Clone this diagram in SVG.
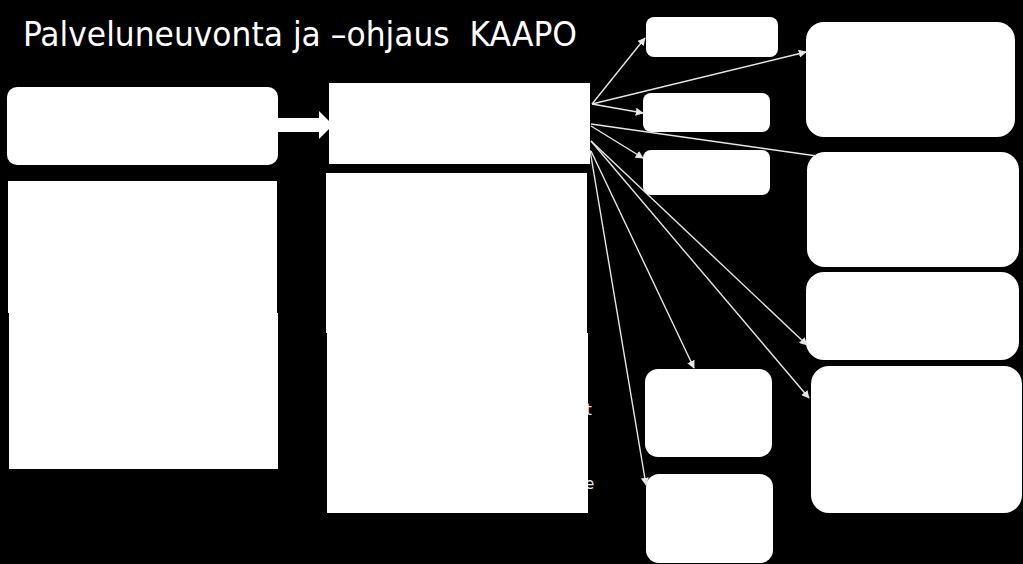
<svg xmlns="http://www.w3.org/2000/svg" width="1023" height="564" viewBox="0 0 1023 564">
<defs>
<style>
.box{fill:#ffffff;}
.con{stroke:#e6e6e6;stroke-width:1.4;fill:none;}
.title{font-family:"DejaVu Sans Condensed","DejaVu Sans",sans-serif;font-size:34px;fill:#ffffff;white-space:pre;}
.frag{font-family:"DejaVu Sans","Liberation Sans",sans-serif;font-size:15px;fill:#e8e8e8;}
</style>
<marker id="ah" viewBox="0 0 10 10" refX="9" refY="5" markerWidth="8" markerHeight="8" markerUnits="userSpaceOnUse" orient="auto">
<path d="M0,0 L10,5 L0,10 z" fill="#e6e6e6"/>
</marker>
</defs>
<rect x="0" y="0" width="1023" height="564" fill="#000000"/>
<text class="title" xml:space="preserve" x="23" y="46" textLength="554" lengthAdjust="spacingAndGlyphs">Palveluneuvonta ja –ohjaus  KAAPO</text>

<g id="left-top"><rect class="box" x="7" y="87" width="271" height="78" rx="10"/></g>
<g id="left-body-1"><rect class="box" x="8" y="181" width="269" height="132"/></g>
<g id="left-body-2"><rect class="box" x="9" y="313" width="269" height="156"/></g>
<g id="center-top"><rect class="box" x="329" y="83" width="261" height="81"/></g>
<g id="center-body-1"><rect class="box" x="326" y="173" width="261" height="160"/></g>
<g id="center-body-2">
<text class="frag" x="586" y="415">t</text>
<text class="frag" x="585" y="489">e</text>
<rect class="box" x="327" y="333" width="261" height="180"/>
</g>
<g id="box-a"><rect class="box" x="646" y="17" width="132" height="40" rx="8"/></g>
<g id="box-b"><rect class="box" x="643" y="93" width="127" height="39" rx="8"/></g>
<g id="box-c"><rect class="box" x="643" y="150" width="127" height="45" rx="8"/></g>
<g id="box-d"><rect class="box" x="645" y="369" width="127" height="88" rx="13"/></g>
<g id="box-e"><rect class="box" x="646" y="474" width="127" height="89" rx="13"/></g>
<g id="box-f"><rect class="box" x="806" y="22" width="209" height="115" rx="18"/></g>
<g id="box-g"><rect class="box" x="807" y="152" width="212" height="115" rx="18"/></g>
<g id="box-h"><rect class="box" x="806" y="272" width="213" height="88" rx="18"/></g>
<g id="box-i"><rect class="box" x="811" y="366" width="211" height="147" rx="18"/></g>

<g id="connectors">
<path d="M278,125 L320,125" stroke="#ffffff" stroke-width="14" fill="none"/>
<path d="M319,111 L333,125 L319,139 z" fill="#ffffff"/>
<line class="con" x1="592" y1="104" x2="645" y2="38" marker-end="url(#ah)"/>
<line class="con" x1="592" y1="104" x2="806" y2="52" marker-end="url(#ah)"/>
<line class="con" x1="592" y1="104" x2="643" y2="113" marker-end="url(#ah)"/>
<line class="con" x1="591" y1="124" x2="817" y2="156"/>
<line class="con" x1="591" y1="126" x2="643" y2="158" marker-end="url(#ah)"/>
<line class="con" x1="591" y1="141" x2="807" y2="345" marker-end="url(#ah)"/>
<line class="con" x1="591" y1="141" x2="809" y2="398" marker-end="url(#ah)"/>
<line class="con" x1="591" y1="151" x2="694" y2="368" marker-end="url(#ah)"/>
<line class="con" x1="590" y1="150" x2="646" y2="485" marker-end="url(#ah)"/>
</g>
</svg>
